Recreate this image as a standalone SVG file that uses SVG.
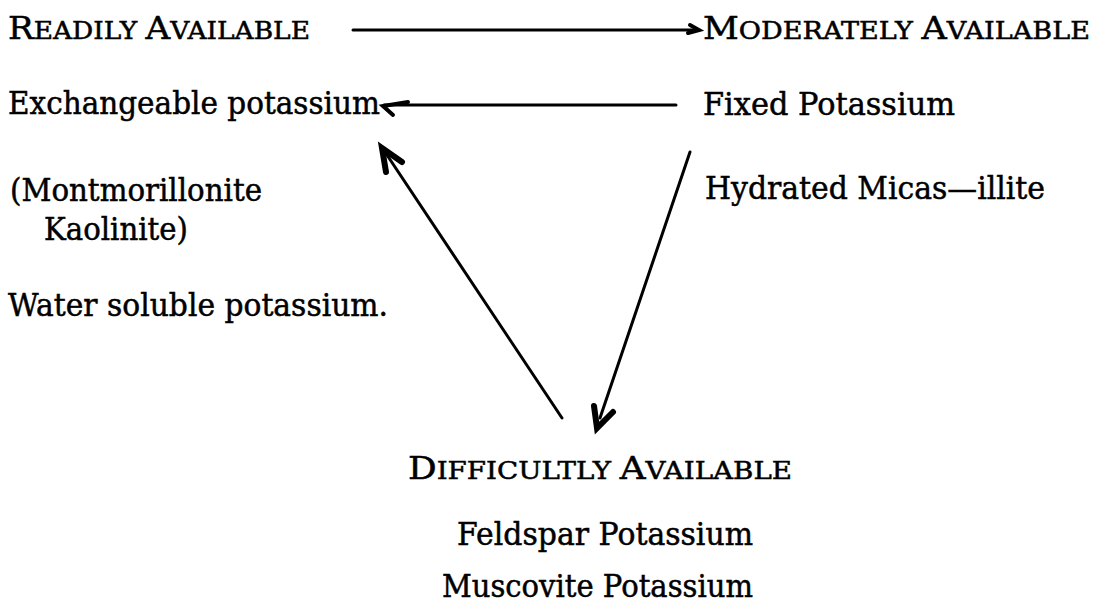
<svg xmlns="http://www.w3.org/2000/svg" width="1096" height="603" viewBox="0 0 1096 603">
<style>
text{font-family:"DejaVu Serif","Liberation Serif",serif;font-size:31px;fill:#000;stroke:#000;stroke-width:0.5}
.sc{font-size:24px}
.ln{fill:none;stroke:#000;stroke-width:3;stroke-linecap:round}
.hd{fill:none;stroke:#000;stroke-width:6;stroke-linecap:round;stroke-linejoin:miter}
.hs{fill:none;stroke:#000;stroke-width:4;stroke-linecap:round;stroke-linejoin:miter}
</style>
<rect width="1096" height="603" fill="#fff"/>
<g id="readily"><text x="8" y="39" textLength="302" lengthAdjust="spacingAndGlyphs">R<tspan class="sc">EADILY </tspan>A<tspan class="sc">VAILABLE</tspan></text></g>
<g id="moderately"><text x="703" y="39" textLength="387" lengthAdjust="spacingAndGlyphs">M<tspan class="sc">ODERATELY </tspan>A<tspan class="sc">VAILABLE</tspan></text></g>
<g id="exchangeable"><text x="8" y="114" textLength="372" lengthAdjust="spacingAndGlyphs">Exchangeable potassium</text></g>
<g id="fixed"><text x="703" y="115" textLength="252" lengthAdjust="spacingAndGlyphs">Fixed Potassium</text></g>
<g id="montmorillonite"><text x="10" y="201" textLength="252" lengthAdjust="spacingAndGlyphs">(Montmorillonite</text><text x="44" y="240" textLength="144" lengthAdjust="spacingAndGlyphs">Kaolinite)</text></g>
<g id="hydrated"><text x="705" y="199" textLength="340" lengthAdjust="spacingAndGlyphs">Hydrated Micas—illite</text></g>
<g id="water"><text x="8" y="316" textLength="380" lengthAdjust="spacingAndGlyphs">Water soluble potassium.</text></g>
<g id="difficultly"><text x="408" y="479" textLength="384" lengthAdjust="spacingAndGlyphs">D<tspan class="sc">IFFICULTLY </tspan>A<tspan class="sc">VAILABLE</tspan></text></g>
<g id="feldspar"><text x="457" y="545" textLength="296" lengthAdjust="spacingAndGlyphs">Feldspar Potassium</text></g>
<g id="muscovite"><text x="442" y="597" textLength="311" lengthAdjust="spacingAndGlyphs">Muscovite Potassium</text></g>
<g id="connectors">
<line class="ln" x1="353" y1="30" x2="698" y2="30"/>
<path class="hs" d="M690,25 L699,30 L688,33"/>
<line class="ln" x1="676" y1="105" x2="384" y2="105"/>
<path class="hs" d="M408,102 L383,106 L393,115"/>
<line class="ln" x1="562" y1="418" x2="387" y2="155"/>
<path class="hd" d="M402,162 L382,148 L386,172"/>
<line class="ln" x1="690" y1="152" x2="600" y2="418"/>
<path class="hd" d="M594,406 L597,428 L613,412"/>
</g>
</svg>
